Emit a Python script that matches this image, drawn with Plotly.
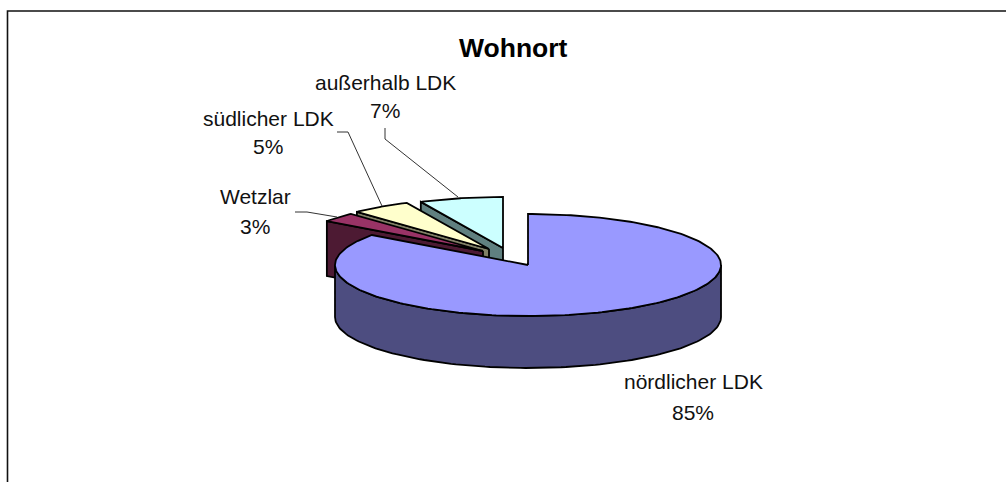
import numpy as np
import plotly.graph_objects as go

categories = ["nördlicher LDK", "Wetzlar", "südlicher LDK", "außerhalb LDK"]
values = [85, 3, 5, 7]
top_colors = ["#9999FF", "#993366", "#FFFFCC", "#CCFFFF"]
wall_colors = ["#4D4D80", "#4D1A33", "#808066", "#608080"]
apex_x = [528, 483, 489, 503]
apex_y = [265, 251, 249, 248]
depths = [52, 55, 51, 51]
RX, RY = 193, 51
label_x = [693, 255, 268, 385]
label_y = [(381, 412), (196, 226), (118, 146), (82, 110)]
leaders = [
    None,
    [(295, 212), (307, 212), (337, 217)],
    [(337, 132), (348, 132), (382, 206)],
    [(385, 128), (385, 139), (458, 197)],
]

total = sum(values)
edges = np.concatenate([[0], np.cumsum(values)]) / total * 2 * np.pi


def rim(cx, cy, a0, a1, n=120):
    t = np.linspace(a0, a1, n)
    return cx + RX * np.sin(t), cy - RY * np.cos(t)


fig = go.Figure()


def poly(x, y, color):
    fig.add_trace(go.Scatter(
        x=np.r_[x, x[0]], y=np.r_[y, y[0]], mode="lines", fill="toself",
        fillcolor=color, line=dict(color="#000000", width=1.8),
        hoverinfo="skip", showlegend=False))


# painter's order: exploded slices from back to front, then the large slice
for i in [3, 2, 1]:
    a0, a1 = edges[i], edges[i + 1]
    cx, cy, d = apex_x[i], apex_y[i], depths[i]
    rx0, ry0 = rim(cx, cy, a0, a0, 2)
    poly(np.array([cx, rx0[0], rx0[0], cx]),
         np.array([cy, ry0[0], ry0[0] + d, cy + d]), wall_colors[i])
    ax, ay = rim(cx, cy, a0, a1)
    poly(np.r_[cx, ax], np.r_[cy, ay], top_colors[i])

cx, cy, d = apex_x[0], apex_y[0], depths[0]
fx, fy = rim(cx, cy, np.pi / 2, 3 * np.pi / 2)
poly(np.r_[fx, fx[::-1]], np.r_[fy, fy[::-1] + d], wall_colors[0])
ax, ay = rim(cx, cy, edges[0], edges[1], 240)
poly(np.r_[cx, ax], np.r_[cy, ay], top_colors[0])

for pts in leaders:
    if pts:
        fig.add_trace(go.Scatter(
            x=[p[0] for p in pts], y=[p[1] for p in pts], mode="lines",
            line=dict(color="#333333", width=1), hoverinfo="skip", showlegend=False))

annotations = [dict(x=513, y=48, text="<b>Wohnort</b>", showarrow=False, xref="x", yref="y",
                    font=dict(family="Liberation Sans", size=26.5, color="#000000"))]
for name, v, lx, (y1, y2) in zip(categories, values, label_x, label_y):
    for t, yy in ((name, y1), (f"{round(v / total * 100)}%", y2)):
        annotations.append(dict(x=lx, y=yy, text=t, showarrow=False, xref="x", yref="y",
                                font=dict(family="Liberation Sans", size=21, color="#111111")))

fig.update_layout(
    width=1006, height=482, autosize=False,
    margin=dict(l=0, r=0, t=0, b=0),
    paper_bgcolor="#FFFFFF", plot_bgcolor="#FFFFFF",
    xaxis=dict(range=[0, 1006], visible=False, fixedrange=True),
    yaxis=dict(range=[482, 0], visible=False, fixedrange=True),
    annotations=annotations,
    shapes=[dict(type="rect", xref="x", yref="y", x0=7.5, y0=11, x1=1030, y1=520,
                 line=dict(color="#111111", width=1.6), layer="below")],
)
fig.write_html(
    "out.html", config=dict(displayModeBar=False),
    post_script="document.body.style.margin='0';document.documentElement.style.overflow='hidden';",
)
